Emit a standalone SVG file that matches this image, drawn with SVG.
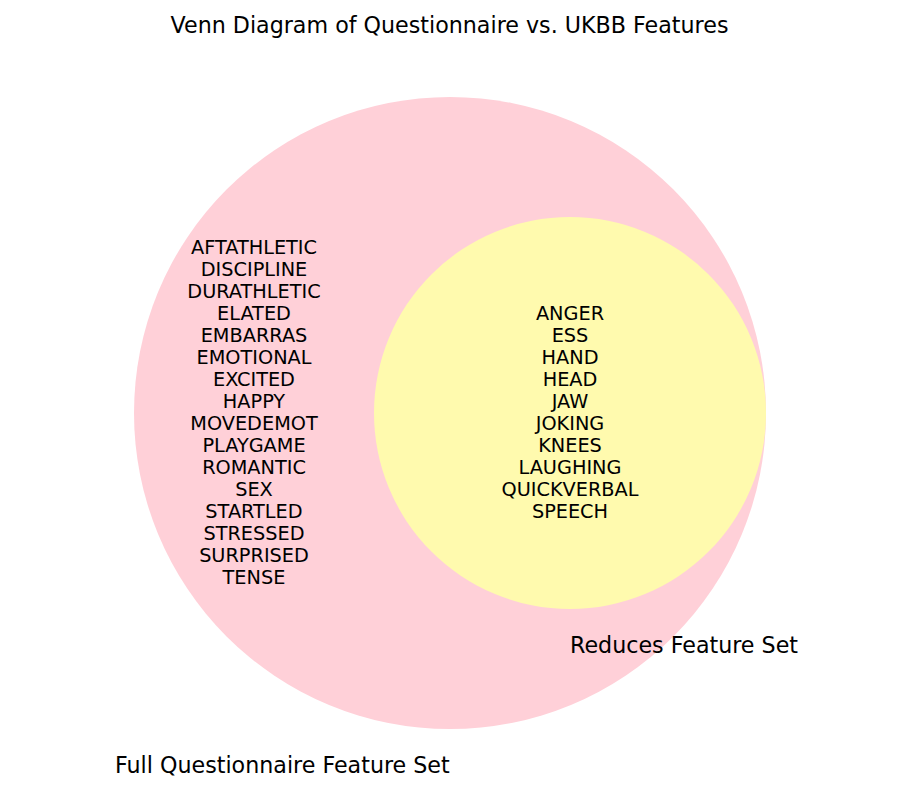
<svg xmlns="http://www.w3.org/2000/svg" width="900" height="800" viewBox="0 0 900 800">
  <style>
    text { font-family: "DejaVu Sans", "Liberation Sans", sans-serif; fill: #000; }
    .big { font-size: 22.2px; }
    .item { font-size: 19.3px; text-anchor: middle; }
  </style>
  <rect width="900" height="800" fill="#ffffff"/>
  <text class="big" x="449.5" y="33" text-anchor="middle">Venn Diagram of Questionnaire vs. UKBB Features</text>

  <!-- set A: full questionnaire -->
  <g id="full-set">
    <circle cx="450" cy="413" r="316" fill="#FFD0D8"/>
    <text class="big" x="115" y="773">Full Questionnaire Feature Set</text>
  </g>

  <!-- set B: reduced set (subset of A) -->
  <g id="reduced-set">
    <circle cx="570" cy="413" r="196" fill="#FFFAAE"/>
    <text class="big" x="570" y="653">Reduces Feature Set</text>
  </g>

  <g id="only-full-items">
    <text class="item" x="254" y="254">AFTATHLETIC</text>
    <text class="item" x="254" y="276">DISCIPLINE</text>
    <text class="item" x="254" y="298">DURATHLETIC</text>
    <text class="item" x="254" y="320">ELATED</text>
    <text class="item" x="254" y="342">EMBARRAS</text>
    <text class="item" x="254" y="364">EMOTIONAL</text>
    <text class="item" x="254" y="386">EXCITED</text>
    <text class="item" x="254" y="408">HAPPY</text>
    <text class="item" x="254" y="430">MOVEDEMOT</text>
    <text class="item" x="254" y="452">PLAYGAME</text>
    <text class="item" x="254" y="474">ROMANTIC</text>
    <text class="item" x="254" y="496">SEX</text>
    <text class="item" x="254" y="518">STARTLED</text>
    <text class="item" x="254" y="540">STRESSED</text>
    <text class="item" x="254" y="562">SURPRISED</text>
    <text class="item" x="254" y="584">TENSE</text>
  </g>

  <g id="shared-items">
    <text class="item" x="570" y="320">ANGER</text>
    <text class="item" x="570" y="342">ESS</text>
    <text class="item" x="570" y="364">HAND</text>
    <text class="item" x="570" y="386">HEAD</text>
    <text class="item" x="570" y="408">JAW</text>
    <text class="item" x="570" y="430">JOKING</text>
    <text class="item" x="570" y="452">KNEES</text>
    <text class="item" x="570" y="474">LAUGHING</text>
    <text class="item" x="570" y="496">QUICKVERBAL</text>
    <text class="item" x="570" y="518">SPEECH</text>
  </g>

  <g id="connectors"></g>
</svg>
